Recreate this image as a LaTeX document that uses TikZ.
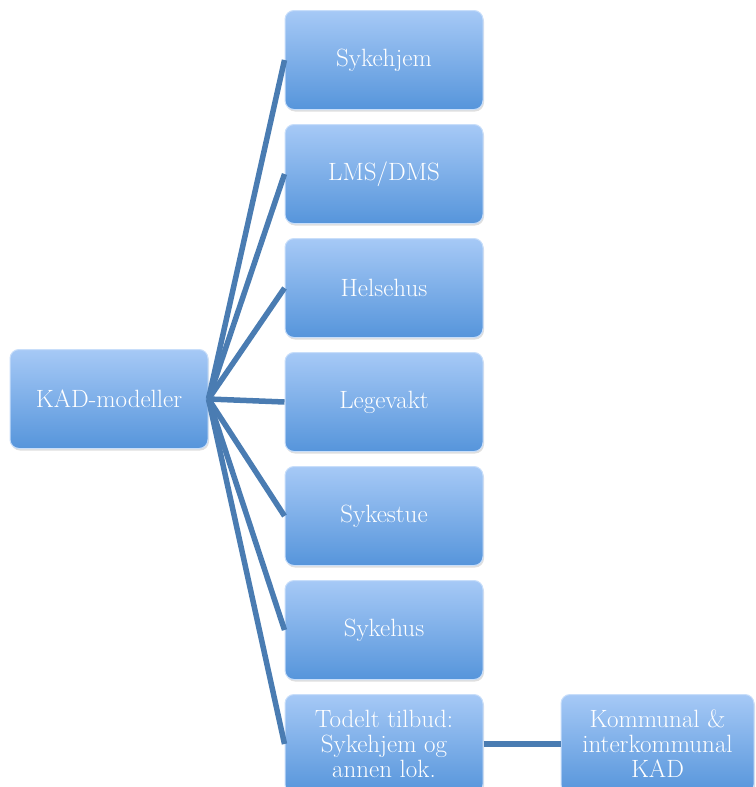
\documentclass[tikz,border=0pt]{standalone}
\usepackage{fontspec}
\usepackage{tikz}
\usetikzlibrary{positioning,shadows}
\definecolor{kadtop}{RGB}{166,201,246}
\definecolor{kadbot}{RGB}{86,149,219}
\definecolor{kadline}{RGB}{74,124,178}
\definecolor{kadedge}{RGB}{200,222,250}

\begin{document}
\begin{tikzpicture}[
  x=1pt, y=1pt,
  every node/.style={font=\fontsize{25}{25}\selectfont},
  box/.style={draw=kadedge, line width=1pt, rounded corners=9pt,
              minimum width=198pt, minimum height=99pt, align=center,
              text=white, top color=kadtop, bottom color=kadbot,
              drop shadow={opacity=0.25, shadow xshift=1pt, shadow yshift=-2pt}},
  link/.style={line width=5.5pt, draw=kadline}
]
\useasboundingbox (0,0) rectangle (755,-787);

% Root
\node[box] (kad) at (109,-399) {KAD-modeller};

% Column of models
\node[box] (sykehjem) at (384,-60) {Sykehjem};
\node[box, below=14pt of sykehjem] (lms)      {LMS/DMS};
\node[box, below=14pt of lms]      (helsehus) {Helsehus};
\node[box, below=14pt of helsehus] (legevakt) {Legevakt};
\node[box, below=14pt of legevakt] (sykestue) {Sykestue};
\node[box, below=14pt of sykestue] (sykehus)  {Sykehus};
\node[box, below=14pt of sykehus]  (todelt)   {Todelt tilbud:\\Sykehjem og\\annen lok.};

% Extra box
\node[box, minimum width=193pt, right=77pt of todelt] (kommunal) {Kommunal \&\\interkommunal\\KAD};

% Links
\foreach \n in {sykehjem,lms,helsehus,legevakt,sykestue,sykehus,todelt}
  \draw[link] (kad.east) -- (\n.west);
\draw[link] (todelt) -- (kommunal);
\end{tikzpicture}
\end{document}
